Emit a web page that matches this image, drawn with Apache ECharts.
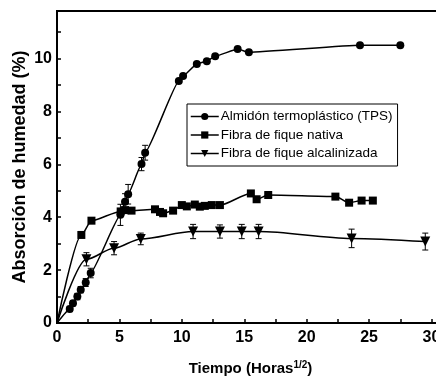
<!DOCTYPE html>
<html>
<head>
<meta charset="utf-8">
<script src="https://cdn.jsdelivr.net/npm/echarts@6/dist/echarts.min.js"></script>
<style>
  html, body { margin: 0; padding: 0; background: #fff; }
  #chart { width: 436px; height: 378px; }
</style>
</head>
<body>
<div id="chart"></div>
<script>
// valores
var tpsX = [1.02, 1.28, 1.63, 1.9, 2.3, 2.7, 5.08, 5.45, 5.7, 6.77, 7.06, 9.76, 10.1, 11.2, 12.0, 12.67, 14.47, 15.37, 24.27, 27.5];
var tpsY = [0.53, 0.75, 1.0, 1.26, 1.53, 1.89, 4.09, 4.59, 4.87, 6.01, 6.44, 9.15, 9.34, 9.8, 9.9, 10.09, 10.36, 10.24, 10.5, 10.5];
var tpsErr = [0.1, 0.1, 0.12, 0.12, 0.15, 0.18, 0.4, 0.3, 0.37, 0.25, 0.28, 0, 0, 0, 0, 0, 0, 0, 0, 0];

var nativaX = [1.95, 2.76, 5.1, 5.45, 5.97, 7.85, 8.25, 8.5, 9.3, 10.0, 10.4, 11.04, 11.44, 11.84, 12.4, 13.05, 15.53, 15.99, 16.92, 22.3, 23.4, 24.4, 25.3];
var nativaY = [3.33, 3.87, 4.22, 4.27, 4.25, 4.3, 4.2, 4.15, 4.25, 4.46, 4.41, 4.48, 4.4, 4.43, 4.46, 4.46, 4.9, 4.68, 4.84, 4.78, 4.55, 4.63, 4.63];

var alcX = [2.36, 4.57, 6.71, 10.9, 13.05, 14.8, 16.15, 23.6, 29.5];
var alcY = [2.41, 2.83, 3.18, 3.46, 3.46, 3.46, 3.46, 3.2, 3.08];
var alcErr = [0.25, 0.25, 0.22, 0.27, 0.25, 0.27, 0.27, 0.35, 0.32];

var names = ['Almidón termoplástico (TPS)', 'Fibra de fique nativa', 'Fibra de fique alcalinizada'];

function lineData(xs, ys) {
  var out = [{ value: [0, 0], symbol: 'none' }];
  for (var i = 0; i < xs.length; i++) out.push([xs[i], ys[i]]);
  return out;
}

function errData(xs, ys, es) {
  var out = [];
  for (var i = 0; i < xs.length; i++) {
    if (es[i] > 0) out.push([xs[i], ys[i], es[i]]);
  }
  return out;
}

function renderBars(params, api) {
  var x = api.value(0), y = api.value(1), e = api.value(2);
  var hi = api.coord([x, y + e]);
  var lo = api.coord([x, y - e]);
  var w = 3;
  var st = { stroke: '#000', lineWidth: 1 };
  return {
    type: 'group',
    children: [
      { type: 'line', shape: { x1: hi[0], y1: hi[1], x2: lo[0], y2: lo[1] }, style: st },
      { type: 'line', shape: { x1: hi[0] - w, y1: hi[1], x2: hi[0] + w, y2: hi[1] }, style: st },
      { type: 'line', shape: { x1: lo[0] - w, y1: lo[1], x2: lo[0] + w, y2: lo[1] }, style: st }
    ]
  };
}

var chart = echarts.init(document.getElementById('chart'));

var axisFont = { color: '#000', fontFamily: 'Liberation Sans, Arial, sans-serif', fontWeight: 'bold', fontSize: 16 };

var option = {
  animation: false,
  backgroundColor: '#fff',
  grid: {
    left: 57, top: 11, width: 387, height: 312,
    containLabel: false, outerBoundsMode: 'none',
    show: true, borderColor: '#000', borderWidth: 2, backgroundColor: 'transparent'
  },
  legend: {
    data: names,
    orient: 'vertical',
    left: 187, top: 104,
    padding: [5, 5, 5, 3],
    itemWidth: 28, itemHeight: 9, itemGap: 3.5,
    borderColor: '#000', borderWidth: 1,
    lineStyle: { width: 1.5, opacity: 1, color: '#000' },
    textStyle: { color: '#000', fontFamily: 'Liberation Sans, Arial', fontSize: 13.5, lineHeight: 15, padding: [0, 0, 0, -3] }
  },
  xAxis: {
    type: 'value', min: 0, max: 31, interval: 2.5,
    name: 'Tiempo (Horas{sup|1/2})',
    nameLocation: 'middle', nameGap: 37,
    nameTextStyle: {
      color: '#000', fontFamily: 'Liberation Sans, Arial', fontWeight: 'bold', fontSize: 15,
      rich: { sup: { fontSize: 10, fontWeight: 'bold', verticalAlign: 'top', padding: [0, 0, 8, 0], color: '#000' } }
    },
    axisLine: { lineStyle: { color: '#000', width: 2 } },
    axisTick: { inside: true, length: 4, lineStyle: { color: '#000', width: 1.5 } },
    axisLabel: {
      margin: 7,
      formatter: function (v) { return v % 5 === 0 && v <= 30 ? String(v) : ''; },
      color: axisFont.color, fontFamily: axisFont.fontFamily, fontWeight: axisFont.fontWeight, fontSize: axisFont.fontSize
    },
    splitLine: { show: false }
  },
  yAxis: {
    type: 'value', min: 0, max: 11.8, interval: 1,
    name: 'Absorción de humedad (%)',
    nameLocation: 'middle', nameGap: 28, nameMoveOverlap: false,
    nameTextStyle: { color: '#000', fontFamily: 'Liberation Sans, Arial', fontWeight: 'bold', fontSize: 18 },
    axisLine: { lineStyle: { color: '#000', width: 2 } },
    axisTick: { inside: true, length: 4, lineStyle: { color: '#000', width: 1.5 } },
    axisLabel: {
      margin: 5,
      formatter: function (v) { return v % 2 === 0 && v <= 10 ? String(v) : ''; },
      color: axisFont.color, fontFamily: axisFont.fontFamily, fontWeight: axisFont.fontWeight, fontSize: axisFont.fontSize
    },
    splitLine: { show: false }
  },
  series: [
    {
      name: names[0], type: 'line', data: lineData(tpsX, tpsY),
      smooth: 0.12, smoothMonotone: 'x',
      symbol: 'circle', symbolSize: 8, showAllSymbol: true,
      lineStyle: { color: '#000', width: 1.5 }, itemStyle: { color: '#000' }, z: 3
    },
    {
      name: names[1], type: 'line', data: lineData(nativaX, nativaY),
      smooth: 0.25, smoothMonotone: 'x',
      symbol: 'rect', symbolSize: 8, showAllSymbol: true,
      lineStyle: { color: '#000', width: 1.5 }, itemStyle: { color: '#000' }, z: 3
    },
    {
      name: names[2], type: 'line', data: lineData(alcX, alcY),
      smooth: 0.3, smoothMonotone: 'x',
      symbol: 'triangle', symbolRotate: 180, symbolSize: 10, showAllSymbol: true,
      lineStyle: { color: '#000', width: 1.5 }, itemStyle: { color: '#000' }, z: 3
    },
    { type: 'custom', renderItem: renderBars, data: errData(tpsX, tpsY, tpsErr), z: 2, silent: true },
    { type: 'custom', renderItem: renderBars, data: errData(alcX, alcY, alcErr), z: 2, silent: true }
  ]
};

chart.setOption(option);
</script>
</body>
</html>
